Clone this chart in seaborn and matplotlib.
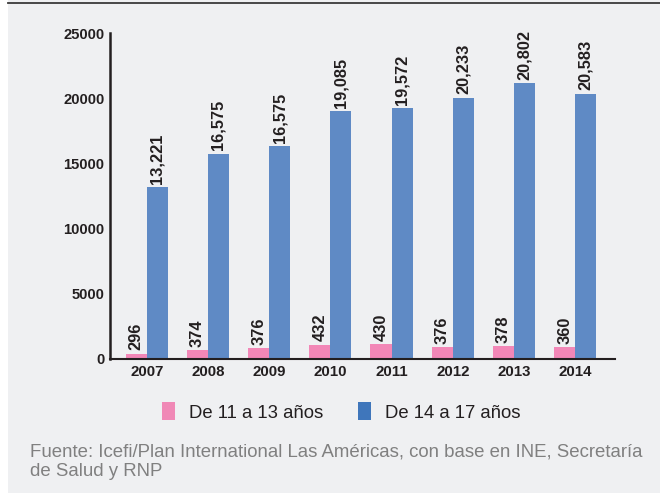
import numpy as np
import pandas as pd
import matplotlib
matplotlib.use('Agg')
import matplotlib.pyplot as plt
from matplotlib.patches import Rectangle, Patch
import seaborn as sns

years = ['2007', '2008', '2009', '2010', '2011', '2012', '2013', '2014']
groups = ['De 11 a 13 años', 'De 14 a 17 años']
# bar heights as drawn in the source chart
h_11_13 = [350, 650, 800, 1040, 1110, 880, 960, 880]
h_14_17 = [13170, 15710, 16320, 19010, 19240, 20010, 21160, 20320]
# printed labels
lab_11_13 = ['296', '374', '376', '432', '430', '376', '378', '360']
lab_14_17 = ['13,221', '16,575', '16,575', '19,085', '19,572', '20,233', '20,802', '20,583']
yticks = [0, 5000, 10000, 15000, 20000, 25000]
source = 'Fuente: Icefi/Plan International Las Américas, con base en INE, Secretaría\nde Salud y RNP'

pink = '#f287b7'
blue = '#5f8ac5'
dark = '#231f20'
bg = '#eff0f2'

df = pd.DataFrame({
    'year': years * 2,
    'group': [groups[0]] * len(years) + [groups[1]] * len(years),
    'value': h_11_13 + h_14_17,
})

plt.rcParams['font.family'] = ['Liberation Sans', 'DejaVu Sans']

fig = plt.figure(figsize=(6.6, 4.94), dpi=100, facecolor=bg)
# white strips at the left edge and bottom edge
fig.patches.append(Rectangle((0, 0), 8 / 660, 1, transform=fig.transFigure,
                             facecolor='white', edgecolor='none', zorder=-10))
fig.patches.append(Rectangle((0, 0), 1, 1 / 494, transform=fig.transFigure,
                             facecolor='white', edgecolor='none', zorder=-10))
fig.add_artist(plt.Line2D([8 / 660, 1], [1 - 3.2 / 494] * 2, transform=fig.transFigure,
                          color='#3a3a3a', lw=1.3))

ax = fig.add_axes([110 / 660, 1 - 358.5 / 494, 505 / 660, 325.5 / 494])
ax.set_facecolor(bg)
sns.barplot(data=df, x='year', y='value', hue='group', palette=[pink, blue],
            width=0.69, saturation=1, ax=ax, legend=False)

for cont, labs in zip(ax.containers, [lab_11_13, lab_14_17]):
    ax.bar_label(cont, labels=labs, rotation=90, padding=2.5, fontsize=11.8,
                 fontweight='bold', color=dark)

ax.set_ylim(0, 25000)
ax.set_xlim(-0.6, 7.65)
ax.set_yticks(yticks)
ax.set_yticklabels([str(t) for t in yticks])
ax.tick_params(axis='y', length=0, labelsize=10.6, labelcolor=dark, pad=4)
ax.tick_params(axis='x', length=0, labelsize=10.8, labelcolor=dark, pad=5)
for t in ax.get_xticklabels() + ax.get_yticklabels():
    t.set_fontweight('bold')
ax.set_xlabel('')
ax.set_ylabel('')
for s in ['top', 'right']:
    ax.spines[s].set_visible(False)
ax.spines['left'].set_linewidth(1.8)
ax.spines['bottom'].set_linewidth(1.5)
ax.spines['left'].set_color(dark)
ax.spines['bottom'].set_color(dark)

handles = [Patch(facecolor='#f088b6', edgecolor='none'), Patch(facecolor='#3f76bb', edgecolor='none')]
fig.legend(handles, groups, loc='center', bbox_to_anchor=(341 / 660, 1 - 412 / 494), ncol=2,
           frameon=False, fontsize=13.3, handlelength=0.7, handleheight=1.1,
           handletextpad=0.75, columnspacing=1.9, labelcolor=dark)

fig.text(30 / 660, 1 - 461.5 / 494, source, fontsize=13.4, color='#808080', va='center',
         linespacing=1.2)

fig.savefig('out.png', dpi=100, facecolor=fig.get_facecolor())
